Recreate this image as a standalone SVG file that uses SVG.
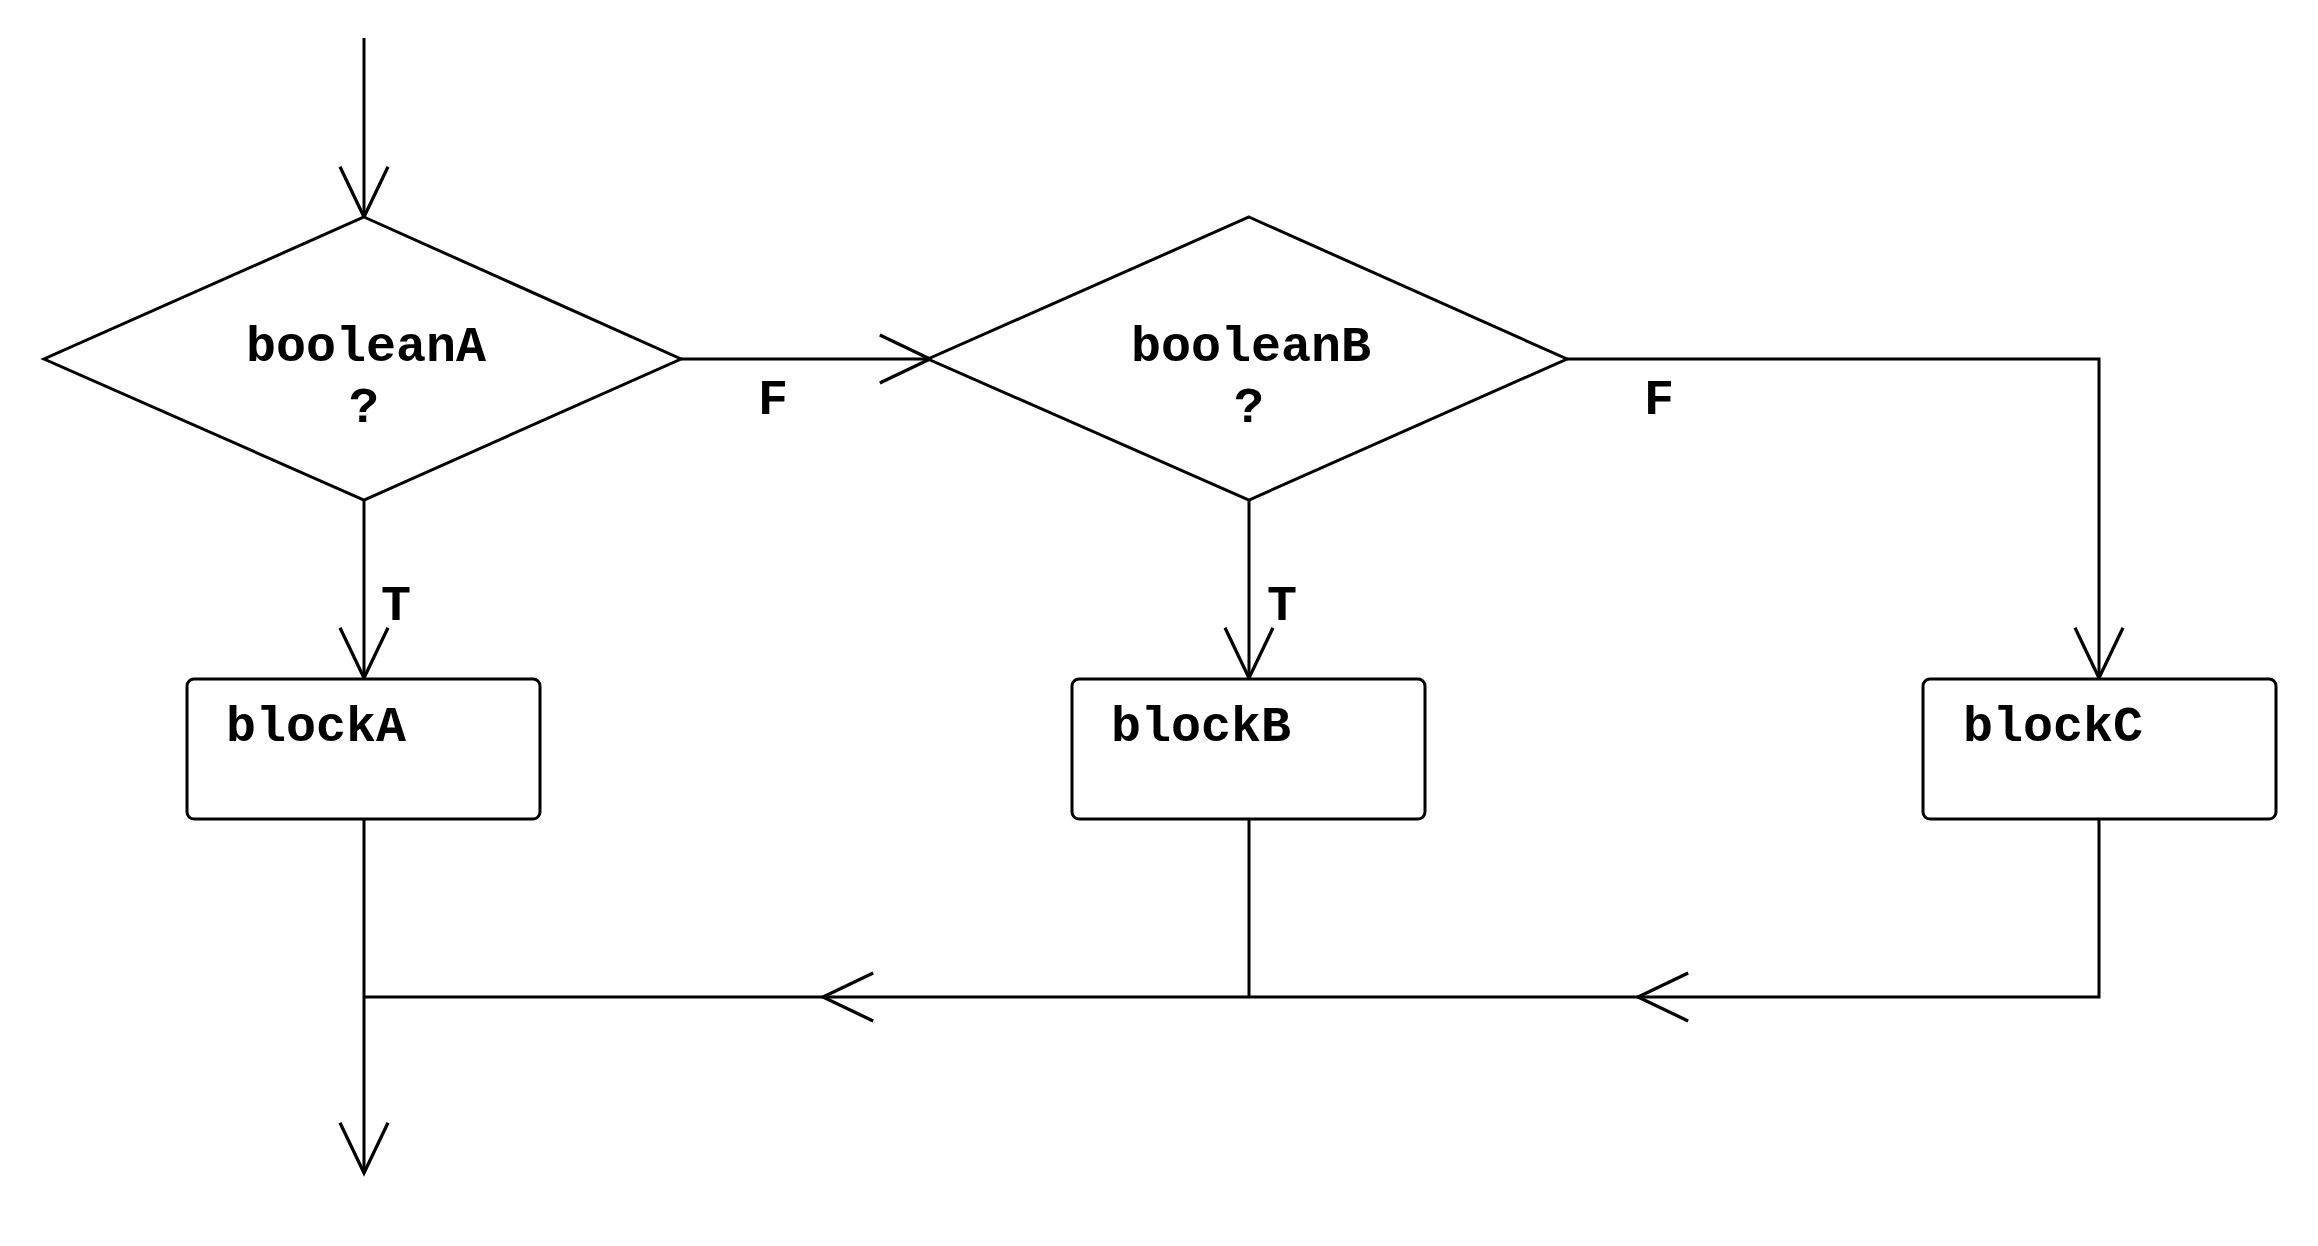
<svg xmlns="http://www.w3.org/2000/svg" width="2318" height="1246" viewBox="0 0 2318 1246">
<style>
.shape{fill:#fff;stroke:#000;stroke-width:3;stroke-linejoin:miter}
.line{fill:none;stroke:#000;stroke-width:3}
.t{font-family:"Liberation Mono","Courier New",monospace;font-weight:bold;font-size:50px;fill:#000}
.m{text-anchor:middle}
</style>
<defs>
<marker id="arr" markerUnits="userSpaceOnUse" markerWidth="60" markerHeight="60" viewBox="-50 -25 55 50" refX="0" refY="0" orient="auto" overflow="visible">
<path d="M-46,-22 L0,0 L-46,22" fill="none" stroke="#000" stroke-width="3"/>
</marker>
</defs>
<rect width="2318" height="1246" fill="#fff"/>
<g id="connectors">
<path class="line" d="M364,38 L364,217" marker-end="url(#arr)"/>
<path class="line" d="M364,500 L364,678" marker-end="url(#arr)"/>
<path class="line" d="M681,359 L930,359" marker-end="url(#arr)"/>
<path class="line" d="M1249,500 L1249,678" marker-end="url(#arr)"/>
<path class="line" d="M1567,359 L2099,359 L2099,678" marker-end="url(#arr)"/>
<path class="line" d="M2099,819 L2099,997 L1638,997" marker-end="url(#arr)"/>
<path class="line" d="M1638,997 L823,997" marker-end="url(#arr)"/>
<path class="line" d="M823,997 L364,997"/>
<path class="line" d="M1249,819 L1249,997"/>
<path class="line" d="M364,819 L364,1173" marker-end="url(#arr)"/>
<text class="t m" x="773" y="414">F</text>
<text class="t m" x="1659" y="414">F</text>
<text class="t m" x="396" y="620">T</text>
<text class="t m" x="1282" y="620">T</text>
</g>
<g id="booleanA">
<polygon class="shape" points="364,217 681,359 364,500 44,359"/>
<text class="t m" x="366" y="361">booleanA</text>
<text class="t m" x="364" y="422">?</text>
</g>
<g id="booleanB">
<polygon class="shape" points="1249,217 1567,359 1249,500 928,359"/>
<text class="t m" x="1251" y="361">booleanB</text>
<text class="t m" x="1249" y="422">?</text>
</g>
<g id="blockA">
<rect class="shape" x="187" y="679" width="353" height="140" rx="7"/>
<text class="t" x="226" y="741">blockA</text>
</g>
<g id="blockB">
<rect class="shape" x="1072" y="679" width="353" height="140" rx="7"/>
<text class="t" x="1111" y="741">blockB</text>
</g>
<g id="blockC">
<rect class="shape" x="1923" y="679" width="353" height="140" rx="7"/>
<text class="t" x="1963" y="741">blockC</text>
</g>
</svg>
